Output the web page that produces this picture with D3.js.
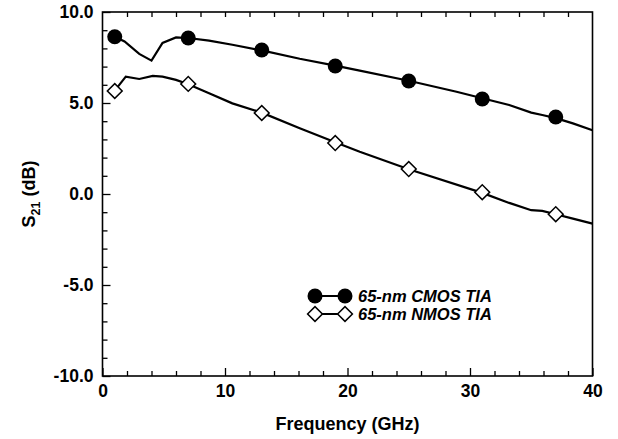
<!DOCTYPE html>
<html><head><meta charset="utf-8">
<script src="https://cdn.jsdelivr.net/npm/d3@7"></script>
<style>body{margin:0;background:#fff}</style>
</head><body><svg id="c" width="618" height="439"></svg>
<script>
const cmosFreq = [1.0, 1.8, 3.0, 4.0, 4.9, 6.0, 7.0, 8.7, 10.6, 13.0, 16.1, 19.0, 21.0, 25.0, 28.9, 31.0, 33.2, 35.0, 35.9, 37.0, 38.4, 40.0];
const cmosS21  = [8.64, 8.38, 7.70, 7.33, 8.30, 8.60, 8.57, 8.43, 8.20, 7.89, 7.43, 7.05, 6.78, 6.22, 5.62, 5.26, 4.89, 4.47, 4.34, 4.17, 3.88, 3.50];
const nmosFreq = [1.0, 1.9, 3.0, 4.1, 4.9, 6.0, 7.0, 8.7, 10.6, 13.0, 16.1, 19.0, 21.0, 25.0, 31.0, 33.2, 35.0, 35.9, 37.0, 38.4, 40.0];
const nmosS21  = [5.68, 6.45, 6.32, 6.49, 6.45, 6.27, 6.03, 5.54, 4.98, 4.47, 3.61, 2.84, 2.32, 1.36, 0.06, -0.49, -0.89, -0.93, -1.11, -1.35, -1.63];
const cmosMarkFreq = [1, 7, 13, 19, 25, 31, 37];
const cmosMarkS21  = [8.64, 8.57, 7.91, 7.03, 6.21, 5.22, 4.23];
const nmosMarkFreq = [1, 7, 13, 19, 25, 31, 37];
const nmosMarkS21  = [5.66, 6.05, 4.45, 2.80, 1.37, 0.10, -1.11];
const xTicks = [0, 10, 20, 30, 40];
const yTicks = [-10, -5, 0, 5, 10];
const legendLabels = ["65-nm CMOS TIA", "65-nm NMOS TIA"];

const svg = d3.select("#c");
const L = 102.5, R = 592.5, T = 12, B = 376;
const x = d3.scaleLinear().domain([0, 40]).range([L, R]);
const y = d3.scaleLinear().domain([-10, 10]).range([B, T]);
const font = "'Liberation Sans', Arial, sans-serif";
const fmtY = v => d3.format(".1f")(v).replace("\u2212", "-");

// bottom axis
const gx = svg.append("g").attr("transform", `translate(0,${B})`)
  .call(d3.axisBottom(x).tickValues(xTicks).tickSize(-8).tickPadding(9).tickFormat(d3.format("d")));
gx.select(".domain").remove();
const gxm = svg.append("g").attr("transform", `translate(0,${B})`)
  .call(d3.axisBottom(x).tickValues(d3.range(2, 40, 2).filter(v => v % 10)).tickSize(-5).tickFormat(""));
gxm.select(".domain").remove();
// top axis minor ticks
const gt = svg.append("g").attr("transform", `translate(0,${T})`)
  .call(d3.axisTop(x).tickValues(d3.range(2, 40, 2)).tickSize(-5).tickFormat(""));
gt.select(".domain").remove();
// left axis
const gy = svg.append("g").attr("transform", `translate(${L},0)`)
  .call(d3.axisLeft(y).tickValues(yTicks).tickSize(-8).tickPadding(9).tickFormat(fmtY));
gy.select(".domain").remove();
const gym = svg.append("g").attr("transform", `translate(${L},0)`)
  .call(d3.axisLeft(y).tickValues(d3.range(-9, 10, 1).filter(v => v % 5)).tickSize(-5).tickFormat(""));
gym.select(".domain").remove();

svg.selectAll(".tick line").attr("stroke", "#000").attr("stroke-width", 1.3);
svg.selectAll(".tick text").attr("font-family", font).attr("font-weight", "bold").attr("font-size", 17.5).attr("fill", "#000");

// frame
svg.append("rect").attr("x", L).attr("y", T).attr("width", R - L).attr("height", B - T)
  .attr("fill", "none").attr("stroke", "#000").attr("stroke-width", 1.6);

const line = d3.line().x(d => x(d[0])).y(d => y(d[1])).curve(d3.curveLinear);
svg.append("path").datum(cmosFreq.map((f, i) => [f, cmosS21[i]]))
  .attr("d", line).attr("fill", "none").attr("stroke", "#000").attr("stroke-width", 2.2);
svg.append("path").datum(nmosFreq.map((f, i) => [f, nmosS21[i]]))
  .attr("d", line).attr("fill", "none").attr("stroke", "#000").attr("stroke-width", 2.2);

const diamond = d3.symbol().type(d3.symbolSquare).size(110);
svg.selectAll(".cm").data(cmosMarkFreq.map((f, i) => [f, cmosMarkS21[i]])).enter()
  .append("circle").attr("cx", d => x(d[0])).attr("cy", d => y(d[1])).attr("r", 7.5).attr("fill", "#000");
svg.selectAll(".nm").data(nmosMarkFreq.map((f, i) => [f, nmosMarkS21[i]])).enter()
  .append("path").attr("d", diamond)
  .attr("transform", d => `translate(${x(d[0])},${y(d[1])}) rotate(45)`)
  .attr("fill", "#fff").attr("stroke", "#000").attr("stroke-width", 1.5);

// legend
const lg = svg.append("g");
const ly = [296, 314];
lg.append("line").attr("x1", 315).attr("x2", 345).attr("y1", ly[0]).attr("y2", ly[0]).attr("stroke", "#000").attr("stroke-width", 2);
lg.append("line").attr("x1", 315).attr("x2", 345).attr("y1", ly[1]).attr("y2", ly[1]).attr("stroke", "#000").attr("stroke-width", 2);
[315, 345].forEach(px => {
  lg.append("circle").attr("cx", px).attr("cy", ly[0]).attr("r", 7.5).attr("fill", "#000");
  lg.append("path").attr("d", diamond).attr("transform", `translate(${px},${ly[1]}) rotate(45)`)
    .attr("fill", "#fff").attr("stroke", "#000").attr("stroke-width", 1.5);
});
legendLabels.forEach((t, i) => {
  lg.append("text").attr("x", 358).attr("y", ly[i] + 6).text(t)
    .attr("font-family", font).attr("font-weight", "bold").attr("font-style", "italic").attr("font-size", 16.5);
});

// axis titles
svg.append("text").attr("x", (L + R) / 2).attr("y", 430).attr("text-anchor", "middle")
  .attr("font-family", font).attr("font-weight", "bold").attr("font-size", 18).text("Frequency (GHz)");
const yl = svg.append("text").attr("transform", "translate(35,194) rotate(-90)").attr("text-anchor", "middle")
  .attr("font-family", font).attr("font-weight", "bold").attr("font-size", 18);
yl.append("tspan").text("S");
yl.append("tspan").attr("font-size", 12.5).attr("dy", 5).text("21");
yl.append("tspan").attr("dy", -5).text(" (dB)");
</script></body></html>
